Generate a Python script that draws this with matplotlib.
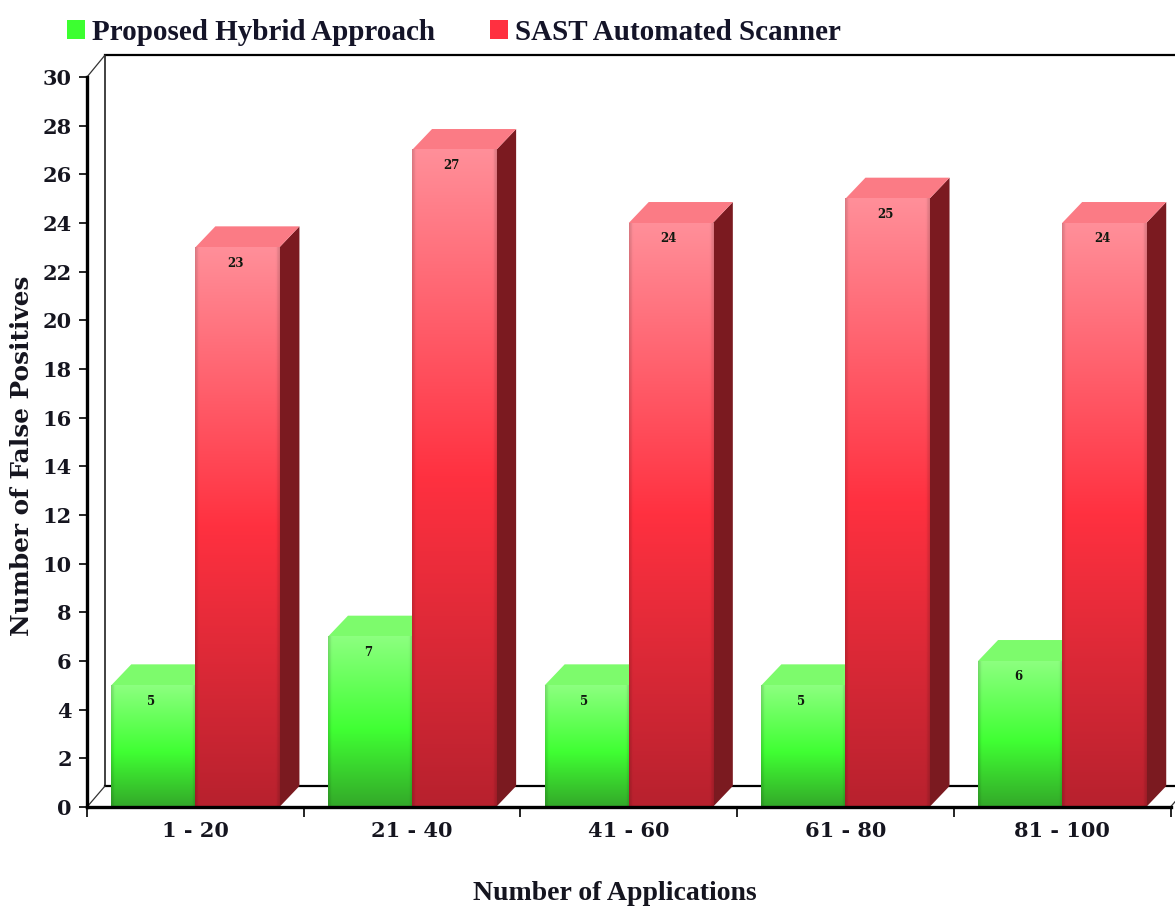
import numpy as np
import matplotlib.pyplot as plt
from matplotlib.patches import Polygon, Rectangle

categories = ["1 - 20", "21 - 40", "41 - 60", "61 - 80", "81 - 100"]
hybrid_values = [5, 7, 5, 5, 6]
sast_values = [23, 27, 24, 25, 24]
y_ticks = list(range(0, 31, 2))

series_names = ["Proposed Hybrid Approach", "SAST Automated Scanner"]

W, H = 1175, 907
AX_LEFT, AX_RIGHT, AX_BOTTOM, AX_TOP = 87, 1170.5, 807, 77
BAR_W = 0.388
DX = 20 / 216.7    # depth offset of the 3d box, x units
DY = 21 / 24.35    # depth offset of the 3d box, y units
WALL_DX = 18 / 216.7

GREEN_STOPS = [(0.0, (0.55, 1.0, 0.50)), (0.55, (0.25, 1.0, 0.20)), (1.0, (0.20, 0.66, 0.16))]
RED_STOPS = [(0.0, (1.0, 0.56, 0.60)), (0.50, (1.0, 0.19, 0.25)), (1.0, (0.72, 0.13, 0.18))]
GREEN_TOP, RED_TOP = "#7dfb6c", "#fb7b85"
RED_SIDE = "#7b1a20"

plt.rcParams["font.family"] = ["DejaVu Serif"]

fig = plt.figure(figsize=(W / 100, H / 100), dpi=100)
ax = fig.add_axes([AX_LEFT / W, 1 - AX_BOTTOM / H, (AX_RIGHT - AX_LEFT) / W, (AX_BOTTOM - AX_TOP) / H])


def face_image(stops):
    # vertical gradient with slightly darker side edges
    t = np.linspace(0, 1, 200)
    rgb = np.stack([np.interp(t, [s[0] for s in stops], [s[1][i] for s in stops]) for i in range(3)], axis=1)
    u = np.linspace(0, 1, 60)
    edge = np.minimum(u, 1 - u)
    shade = 0.86 + 0.14 * np.clip(edge / 0.04, 0, 1)
    return rgb[:, None, :] * shade[None, :, None]


def draw_bar(left, value, stops, top_color, side_color, z):
    right = left + BAR_W
    if side_color:
        ax.add_patch(Polygon([(right, 0), (right + DX, DY), (right + DX, value + DY), (right, value)],
                             facecolor=side_color, edgecolor="none", zorder=z, clip_on=False))
    ax.add_patch(Polygon([(left, value), (left + DX, value + DY), (right + DX, value + DY), (right, value)],
                         facecolor=top_color, edgecolor="none", zorder=z, clip_on=False))
    ax.imshow(face_image(stops), extent=(left, right, 0, value), aspect="auto", zorder=z + 0.5, clip_on=False)
    ax.text(left + BAR_W / 2 - 0.01, value - 0.65, str(value), ha="center", va="center", fontsize=8.5,
            fontweight="bold", color="#10180f", zorder=z + 1)


for i in range(len(categories)):
    draw_bar(i - BAR_W, hybrid_values[i], GREEN_STOPS, GREEN_TOP, None, 3 + i)
    draw_bar(i, sast_values[i], RED_STOPS, RED_TOP, RED_SIDE, 3.2 + i)

ax.set_xlim(-0.5, 4.5)
ax.set_ylim(0, 30)

# back wall and floor of the 3d box
x_far = 4.6
ax.plot([-0.5 + WALL_DX, -0.5 + WALL_DX], [DY, 30 + 0.9], color="#333333", lw=1.3, clip_on=False, zorder=1)
ax.plot([-0.5 + WALL_DX, x_far], [30 + 0.9, 30 + 0.9], color="black", lw=1.6, clip_on=False, zorder=1)
ax.plot([-0.5 + WALL_DX, x_far], [DY, DY], color="black", lw=1.6, clip_on=False, zorder=1)
ax.plot([-0.5, -0.5 + WALL_DX], [30, 30 + 0.9], color="#333333", lw=0.9, clip_on=False, zorder=1)
ax.plot([-0.5, -0.5 + WALL_DX], [0, DY], color="#333333", lw=0.9, clip_on=False, zorder=1)
ax.plot([4.5, 4.5 + WALL_DX], [0, DY], color="#333333", lw=0.9, clip_on=False, zorder=1)

ax.spines["top"].set_visible(False)
ax.spines["right"].set_visible(False)
ax.spines["left"].set_linewidth(2.4)
ax.spines["bottom"].set_linewidth(2.4)
ax.spines["left"].set_zorder(20)
ax.spines["bottom"].set_zorder(20)

ax.set_yticks(y_ticks)
ax.set_yticklabels([str(v) for v in y_ticks], fontsize=15, fontweight="bold", color="#15151f")
ax.tick_params(axis="y", length=6, width=1.2, pad=5)

ax.set_xticks(np.arange(-0.5, 5.0, 1.0))
ax.set_xticklabels([])
ax.tick_params(axis="x", which="major", length=7, width=1.2)
ax.set_xticks(np.arange(5), minor=True)
ax.set_xticklabels(categories, minor=True, fontsize=15, fontweight="bold", color="#15151f")
ax.tick_params(axis="x", which="minor", length=0, pad=10)

fig.text(22 / W, 1 - 456 / H, "Number of False Positives", rotation=90, ha="center", va="center",
         fontsize=17.8, fontweight="bold", color="#15151f")
fig.text(615 / W, 1 - 894 / H, "Number of Applications", ha="center", va="center",
         family="Liberation Serif", fontsize=20, fontweight="bold", color="#15151f")

# legend drawn by hand so the swatches sit where they should
for x0, color, label, tx in [(67, "#3cff30", series_names[0], 92), (490, "#ff3040", series_names[1], 515)]:
    fig.add_artist(Rectangle((x0 / W, 1 - 39 / H), 18 / W, 19 / H, transform=fig.transFigure,
                             facecolor=color, edgecolor="none"))
    fig.text(tx / W, 1 - 32 / H, label, ha="left", va="center", family="Liberation Serif",
             fontsize=21, fontweight="bold", color="#141428")

fig.savefig("out.png", dpi=100)
